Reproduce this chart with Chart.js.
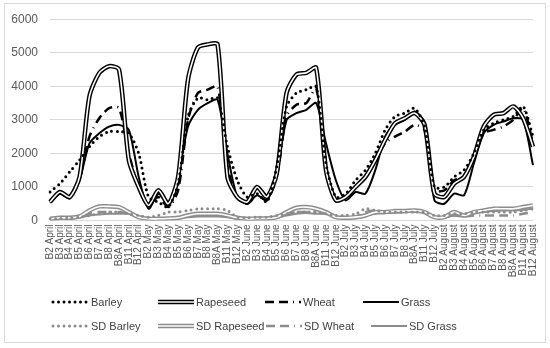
<!DOCTYPE html>
<html>
<head>
<meta charset="utf-8">
<script src="https://cdn.jsdelivr.net/npm/chart.js@4.4.0/dist/chart.umd.min.js"></script>
<style>
  html, body { margin: 0; padding: 0; background: #fff; }
  canvas { display: block; }
</style>
</head>
<body>
<canvas id="bandChart" width="550" height="348"></canvas>
<script>
// --- categories
const bands = ["B2", "B3", "B4", "B5", "B6", "B7", "B8", "B8A", "B11", "B12"];
const months = ["April", "May", "June", "July", "August"];
const labels = months.flatMap(m => bands.map(b => b + " " + m));
const yTicks = [0, 1000, 2000, 3000, 4000, 5000, 6000];

// --- mean values (April .. August, 10 bands each)
const barley = [
  850, 1100, 1450, 1800, 2200, 2500, 2650, 2650, 2600, 2000,
  700, 550, 400, 1100, 3100, 3650, 3600, 3650, 2200, 1200,
  700, 800, 550, 1600, 3400, 3800, 3900, 4000, 1700, 700,
  800, 1200, 1500, 2000, 2700, 3100, 3200, 3350, 2800, 1000,
  1000, 1300, 1500, 2000, 2700, 2900, 3000, 3100, 3400, 2500
];
const rapeseed = [
  550, 850, 700, 1300, 3700, 4400, 4600, 4500, 1800, 1000,
  450, 900, 500, 1300, 4200, 5150, 5250, 5250, 1300, 700,
  550, 1000, 700, 1400, 3800, 4350, 4400, 4550, 1500, 600,
  700, 1000, 1300, 1800, 2400, 2900, 3050, 3200, 2850, 800,
  700, 1100, 1300, 1900, 2800, 3150, 3200, 3400, 3050, 2200
];
const wheat = [
  600, 800, 700, 1250, 2500, 3050, 3350, 3350, 2000, 1000,
  500, 700, 400, 900, 3000, 3800, 3900, 4000, 1600, 700,
  500, 750, 600, 1300, 3100, 3450, 3500, 3950, 1600, 600,
  700, 1000, 1300, 1800, 2300, 2500, 2650, 2850, 2700, 900,
  900, 1200, 1300, 1900, 2600, 2700, 2800, 3000, 3350, 2300
];
const grass = [
  530, 800, 650, 1200, 2300, 2600, 2800, 2850, 2700, 1300,
  350, 800, 500, 1300, 2800, 3300, 3500, 3600, 2000, 700,
  500, 750, 600, 1400, 3000, 3200, 3300, 3500, 2300, 1200,
  600, 850, 800, 1500, 2500, 2850, 3000, 3250, 2900, 600,
  500, 800, 750, 1700, 2600, 2850, 2950, 3050, 3000, 1650
];

// --- standard deviations
const sdBarley = [
  50, 60, 80, 100, 150, 200, 250, 250, 200, 150,
  100, 150, 250, 250, 300, 350, 350, 350, 300, 100,
  80, 100, 100, 150, 200, 250, 250, 250, 200, 150,
  150, 200, 350, 300, 250, 250, 250, 250, 250, 150,
  150, 200, 200, 250, 250, 250, 250, 250, 300, 350
];
const sdRapeseed = [
  50, 80, 80, 120, 300, 420, 420, 400, 250, 100,
  50, 50, 60, 80, 150, 200, 200, 200, 150, 80,
  50, 60, 60, 100, 250, 380, 400, 350, 250, 100,
  80, 100, 150, 250, 250, 280, 280, 300, 250, 100,
  100, 250, 150, 250, 300, 350, 350, 350, 400, 450
];
const sdWheat = [
  50, 70, 70, 100, 200, 250, 250, 250, 200, 100,
  50, 50, 60, 80, 120, 150, 150, 150, 120, 60,
  50, 60, 60, 100, 200, 250, 250, 250, 200, 80,
  80, 100, 250, 300, 250, 250, 250, 250, 250, 100,
  100, 150, 120, 150, 150, 150, 150, 150, 200, 250
];
const sdGrass = [
  30, 50, 50, 80, 150, 180, 200, 200, 200, 120,
  50, 50, 50, 80, 100, 120, 120, 120, 100, 60,
  40, 50, 50, 80, 150, 200, 220, 200, 200, 100,
  60, 80, 150, 200, 220, 230, 250, 250, 250, 80,
  80, 150, 120, 200, 250, 280, 300, 300, 320, 350
];

const BLACK = "#000000";
const GREY = "#8c8c8c";
const DOTS = [0, 5.5];
const DASH_DOT = [9, 5, 9, 5, 1, 5];

// --- series styles (style: dots | double | dashdot | solid)
const series = [
  { label: "Barley", data: barley, color: BLACK, style: "dots", order: 6 },
  { label: "Rapeseed", data: rapeseed, color: BLACK, style: "double", order: 8 },
  { label: "Wheat", data: wheat, color: BLACK, style: "dashdot", order: 9 },
  { label: "Grass", data: grass, color: BLACK, style: "solid", order: 10 },
  { label: "SD Barley", data: sdBarley, color: GREY, style: "dots", order: 16 },
  { label: "SD Rapeseed", data: sdRapeseed, color: GREY, style: "double", order: 18 },
  { label: "SD Wheat", data: sdWheat, color: GREY, style: "dashdot", order: 20 },
  { label: "SD Grass", data: sdGrass, color: GREY, style: "solid", order: 21 }
];

function lineStyle(s) {
  if (s.style === "dots") return { borderWidth: 3, borderDash: DOTS, borderCapStyle: "round" };
  if (s.style === "double") return { borderWidth: 4.5, borderDash: [] };
  if (s.style === "dashdot") return { borderWidth: 2.5, borderDash: DASH_DOT };
  return { borderWidth: 2, borderDash: [] };
}

const datasets = [];
series.forEach(s => {
  datasets.push(Object.assign({
    label: s.label,
    data: s.data,
    borderColor: s.color,
    pointRadius: 0,
    tension: 0.25,
    fill: false,
    order: s.order
  }, lineStyle(s)));
  // white core for the double line
  if (s.style === "double") {
    datasets.push({
      label: s.label + " core",
      data: s.data,
      borderColor: "#ffffff",
      borderWidth: 1.6,
      pointRadius: 0,
      tension: 0.25,
      fill: false,
      order: s.order - 1
    });
  }
});

// --- legend drawn by hand (two rows of four)
const legendCols = [[53, 158, 265, 363], [53, 158, 266, 371]];
const legendRows = [302, 326];

function drawSample(c, s, x, y, len) {
  const st = lineStyle(s);
  c.save();
  c.beginPath();
  c.moveTo(x, y);
  c.lineTo(x + len, y);
  c.strokeStyle = s.color;
  c.lineWidth = st.borderWidth;
  c.setLineDash(st.borderDash);
  c.lineCap = st.borderCapStyle || "butt";
  c.stroke();
  if (s.style === "double") {
    c.beginPath();
    c.moveTo(x, y);
    c.lineTo(x + len, y);
    c.strokeStyle = "#ffffff";
    c.lineWidth = 1.6;
    c.stroke();
  }
  c.restore();
}

const frameAndLegend = {
  id: "frameAndLegend",
  beforeDraw(chart) {
    const c = chart.ctx;
    c.save();
    c.fillStyle = "#ffffff";
    c.fillRect(0, 0, chart.width, chart.height);
    c.strokeStyle = "#d9d9d9";
    c.lineWidth = 1;
    c.strokeRect(4.5, 3.5, 541, 339);
    c.restore();
  },
  afterDraw(chart) {
    const c = chart.ctx;
    series.forEach((s, i) => {
      const row = Math.floor(i / 4);
      const x = legendCols[row][i % 4];
      const y = legendRows[row];
      drawSample(c, s, x, y, 36);
      c.save();
      c.font = "11px 'Liberation Sans', Arial, sans-serif";
      c.fillStyle = "#404040";
      c.textBaseline = "middle";
      c.fillText(s.label, x + 38, y + 1);
      c.restore();
    });
  }
};

const ctx = document.getElementById("bandChart").getContext("2d");
new Chart(ctx, {
  type: "line",
  data: { labels: labels, datasets: datasets },
  options: {
    responsive: false,
    animation: false,
    devicePixelRatio: 1,
    layout: { padding: { left: 0, top: 18, right: 17, bottom: 0 } },
    plugins: {
      legend: { display: false },
      tooltip: { enabled: false }
    },
    scales: {
      x: {
        grid: { display: false, drawTicks: false },
        border: { display: false },
        ticks: {
          autoSkip: false,
          maxRotation: 90,
          minRotation: 90,
          padding: 4,
          color: "#595959",
          font: { family: "'Liberation Sans', Arial, sans-serif", size: 10 }
        },
        afterFit: scale => { scale.height = 127.5; }
      },
      y: {
        min: 0,
        max: 6000,
        afterBuildTicks: scale => { scale.ticks = yTicks.map(v => ({ value: v })); },
        grid: { color: "#d9d9d9", drawTicks: false },
        border: { display: false },
        ticks: {
          padding: 12,
          color: "#595959",
          font: { family: "'Liberation Sans', Arial, sans-serif", size: 12 },
          callback: v => String(v)
        },
        afterFit: scale => { scale.width = 50; }
      }
    }
  },
  plugins: [frameAndLegend]
});
</script>
</body>
</html>
